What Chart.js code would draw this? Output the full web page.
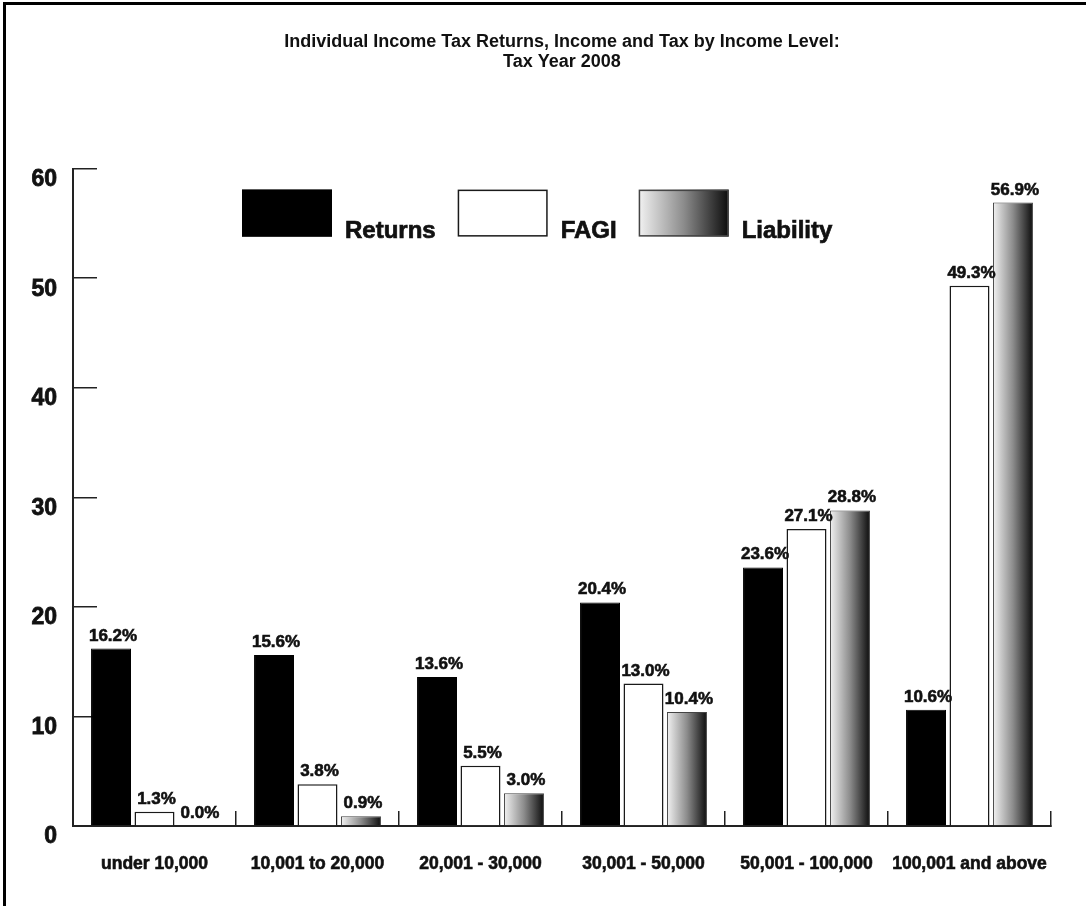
<!DOCTYPE html>
<html lang="en">
<head>
  <meta charset="UTF-8">
  <title>Individual Income Tax Returns, Income and Tax by Income Level: Tax Year 2008</title>
  <script src="https://cdn.jsdelivr.net/npm/chart.js@4.4.1/dist/chart.umd.min.js"></script>
  <style>
    body {
      margin: 0;
      background: #fff;
    }
    #wrap {
      position: relative;
      width: 1086px;
      height: 906px;
    }
    #frame {
      position: absolute;
      left: 3px;
      top: 2px;
      right: 0;
      bottom: 0;
      border-left: 3px solid #000;
      border-top: 3px solid #000;
      pointer-events: none;
    }
    canvas {
      position: absolute;
      left: 0;
      top: 0;
    }
  </style>
</head>
<body>

  <div id="wrap">
    <canvas id="taxChart" width="1086" height="906"></canvas>
    <div id="frame"></div>
  </div>

  <script>
    // Income brackets and shares (%) for each series
    const incomeLevels = ['under 10,000', '10,001 to 20,000', '20,001 - 30,000',
                          '30,001 - 50,000', '50,001 - 100,000', '100,001 and above'];
    const returnsShare   = [16.2, 15.6, 13.6, 20.4, 23.6, 10.6];
    const fagiShare      = [1.3, 3.8, 5.5, 13.0, 27.1, 49.3];
    const liabilityShare = [0.0, 0.9, 3.0, 10.4, 28.8, 56.9];
    const yTicks = [0, 10, 20, 30, 40, 50, 60];

    const FONT = "'Liberation Sans', Arial, sans-serif";
    const INK = '#111';

    // light-to-dark shading used for the liability bars
    function shade(ctx, x0, x1) {
      const g = ctx.createLinearGradient(x0, 0, x1, 0);
      g.addColorStop(0, '#f2f2f2');
      g.addColorStop(0.5, '#8c8c8c');
      g.addColorStop(1, '#0c0c0c');
      return g;
    }

    // heavier lettering: fill plus a thin stroke of the same ink
    function boldText(ctx, text, x, y) {
      ctx.fillText(text, x, y);
      ctx.strokeText(text, x, y);
    }

    // give every liability bar its own gradient across its width
    const barShading = {
      id: 'barShading',
      beforeDatasetsDraw(chart) {
        chart.getDatasetMeta(2).data.forEach(el => {
          const x0 = el.x - el.width / 2;
          el.options = Object.assign({}, el.options, { backgroundColor: shade(chart.ctx, x0, x0 + el.width) });
        });
      }
    };

    // percentage labels above each bar
    const valueLabels = {
      id: 'valueLabels',
      afterDatasetsDraw(chart) {
        const ctx = chart.ctx;
        ctx.save();
        ctx.font = 'bold 17px ' + FONT;
        ctx.fillStyle = INK;
        ctx.strokeStyle = INK;
        ctx.lineWidth = 0.6;
        ctx.textAlign = 'center';
        ctx.textBaseline = 'alphabetic';
        chart.data.datasets.forEach((ds, d) => {
          chart.getDatasetMeta(d).data.forEach((el, i) => {
            boldText(ctx, ds.data[i].toFixed(1) + '%', el.x + 2, el.y - 8);
          });
        });
        ctx.restore();
      }
    };

    // boxes + names drawn inside the plot, upper left
    const boxLegend = {
      id: 'boxLegend',
      afterDraw(chart) {
        const ctx = chart.ctx;
        const area = chart.chartArea;
        const boxW = 90, boxH = 47;
        let x = area.left + 169;
        const top = area.top + 21;
        ctx.save();
        ctx.font = 'bold 24px ' + FONT;
        ctx.textBaseline = 'alphabetic';
        chart.data.datasets.forEach((ds, d) => {
          ctx.fillStyle = d === 2 ? shade(ctx, x, x + boxW) : ds.backgroundColor;
          ctx.fillRect(x, top, boxW, boxH);
          ctx.lineWidth = 1.5;
          ctx.strokeStyle = ds.borderColor;
          ctx.strokeRect(x + 0.75, top + 0.75, boxW - 1.5, boxH - 1.5);
          ctx.fillStyle = INK;
          ctx.strokeStyle = INK;
          ctx.lineWidth = 0.7;
          const tx = x + boxW + 13;
          boldText(ctx, ds.label, tx, top + boxH + 1);
          x = tx + ctx.measureText(ds.label).width + 22;
        });
        ctx.restore();
      }
    };

    new Chart(document.getElementById('taxChart'), {
      type: 'bar',
      data: {
        labels: incomeLevels,
        datasets: [
          { label: 'Returns', data: returnsShare, backgroundColor: '#000', borderColor: '#000', borderWidth: 1 },
          { label: 'FAGI', data: fagiShare, backgroundColor: '#fff', borderColor: '#1a1a1a', borderWidth: 1.5 },
          { label: 'Liability', data: liabilityShare, backgroundColor: '#888', borderColor: '#444', borderWidth: 1 }
        ]
      },
      plugins: [barShading, valueLabels, boxLegend],
      options: {
        responsive: false,
        animation: false,
        events: [],
        devicePixelRatio: 1,
        layout: { padding: { left: 0, right: 35, top: 0, bottom: 0 } },
        datasets: {
          bar: { categoryPercentage: 0.8, barPercentage: 0.92 }
        },
        plugins: {
          legend: { display: false },
          tooltip: { enabled: false },
          title: {
            display: true,
            fullSize: false,
            text: ['Individual Income Tax Returns, Income and Tax by Income Level:', 'Tax Year 2008'],
            color: INK,
            font: { family: FONT, size: 18, weight: 'bold', lineHeight: 1.1 },
            padding: { top: 32, bottom: 97 }
          }
        },
        scales: {
          x: {
            afterFit(scale) {
              scale.height = 80;
              scale.paddingLeft = 0;
              scale.paddingRight = 0;
            },
            border: { display: true, color: '#222', width: 2 },
            grid: { offset: true, drawOnChartArea: false, drawTicks: true, tickLength: -15, color: '#222', lineWidth: 1.5 },
            ticks: {
              color: INK,
              textStrokeColor: INK,
              textStrokeWidth: 0.6,
              padding: 43,
              maxRotation: 0,
              autoSkip: false,
              font: { family: FONT, size: 17.5, weight: 'bold' }
            }
          },
          y: {
            min: yTicks[0],
            max: yTicks[yTicks.length - 1],
            afterFit(scale) { scale.width = 73; },
            border: { display: true, color: '#222', width: 2 },
            grid: { drawOnChartArea: false, drawTicks: true, tickLength: -24, color: '#222', lineWidth: 1.5 },
            ticks: {
              stepSize: yTicks[1] - yTicks[0],
              autoSkip: false,
              color: INK,
              textStrokeColor: INK,
              textStrokeWidth: 0.8,
              padding: 40,
              labelOffset: 11,
              font: { family: FONT, size: 23, weight: 'bold' }
            }
          }
        }
      }
    });
  </script>

</body>
</html>
